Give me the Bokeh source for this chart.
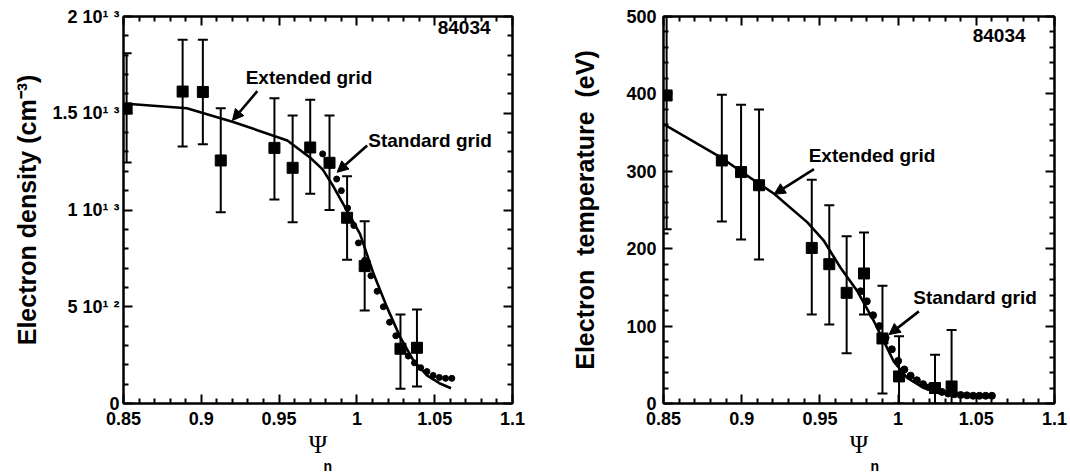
import numpy as np
from bokeh.plotting import figure
from bokeh.layouts import row
from bokeh.models import (Range1d, FixedTicker, LinearAxis, Whisker, TeeHead,
                          ColumnDataSource, Arrow, NormalHead, Label, Title)
from bokeh.embed import file_html
from bokeh.resources import INLINE

# ---------------- data: electron density (left) ----------------
ne_psi = [0.852, 0.888, 0.901, 0.9125, 0.947, 0.9587, 0.970, 0.9824, 0.9937, 1.005, 1.028, 1.0386]
ne_val = [1.525e13, 1.612e13, 1.61e13, 1.256e13, 1.321e13, 1.218e13, 1.323e13, 1.244e13, 0.96e13, 0.71e13, 0.283e13, 0.288e13]
ne_hi = [1.81e13, 1.88e13, 1.88e13, 1.526e13, 1.578e13, 1.488e13, 1.57e13, 1.488e13, 1.175e13, 0.942e13, 0.46e13, 0.486e13]
ne_lo = [1.245e13, 1.328e13, 1.34e13, 0.989e13, 1.054e13, 0.937e13, 1.084e13, 1.0e13, 0.743e13, 0.481e13, 0.076e13, 0.088e13]

ne_ext_psi = [0.852, 0.8907, 0.921, 0.9553, 0.970, 0.978, 0.985, 0.9936, 1.002, 1.0107, 1.0193, 1.0278, 1.0364, 1.045, 1.053, 1.0605]
ne_ext_val = [1.549e13, 1.526e13, 1.454e13, 1.359e13, 1.27e13, 1.21e13, 1.12e13, 0.997e13, 0.877e13, 0.670e13, 0.498e13, 0.343e13, 0.222e13, 0.145e13, 0.105e13, 0.079e13]

ne_std_psi = [0.978, 0.983, 0.987, 0.990, 0.994, 0.998, 1.001, 1.005, 1.009, 1.013, 1.017, 1.021,
              1.025, 1.029, 1.033, 1.037, 1.041, 1.045, 1.049, 1.053, 1.057, 1.061]
ne_std_val = [1.29e13, 1.23e13, 1.16e13, 1.10e13, 1.01e13, 0.92e13, 0.83e13, 0.74e13, 0.66e13, 0.58e13, 0.50e13, 0.42e13,
              0.35e13, 0.29e13, 0.245e13, 0.21e13, 0.185e13, 0.165e13, 0.145e13, 0.135e13, 0.13e13, 0.13e13]

# ---------------- data: electron temperature (right) ----------------
te_psi = [0.852, 0.8873, 0.8996, 0.9111, 0.9448, 0.956, 0.9671, 0.9782, 0.990, 1.0006, 1.0236, 1.0342]
te_val = [398, 314, 299, 282, 201, 180, 143, 168, 84, 35, 20, 22]
te_hi = [500, 399, 386, 380, 289, 256, 216, 221, 152, 87, 63, 95]
te_lo = [225, 235, 212, 186, 115, 102, 65, 115, 13, 0, 0, 0]

te_ext_psi = [0.850, 0.8866, 0.8994, 0.9207, 0.942, 0.9526, 0.9633, 0.974, 0.9846, 0.991, 0.9973, 1.0059, 1.0165, 1.0272, 1.040, 1.057]
te_ext_val = [361, 318, 300, 271, 234, 210, 175, 145, 106, 80, 54, 33, 20, 13, 11.5, 11]

te_std_psi = [0.976, 0.980, 0.984, 0.988, 0.992, 0.996, 1.000, 1.004, 1.008, 1.012, 1.016, 1.020,
              1.024, 1.028, 1.032, 1.036, 1.040, 1.044, 1.048, 1.052, 1.056, 1.060]
te_std_val = [145, 132, 114, 100, 85, 70, 55, 44, 36, 30, 25, 21, 17, 15, 13, 12, 11, 10.5, 10, 10, 10, 10]

# ---------------- ticks ----------------
x_ticks = [0.85, 0.9, 0.95, 1.0, 1.05, 1.1]
x_labels = ["0.85", "0.9", "0.95", "1", "1.05", "1.1"]
ne_ticks = [0, 5e12, 1e13, 1.5e13, 2e13]
ne_labels = ["0", "5 10\u00b9 \u00b2", "1 10\u00b9 \u00b3", "1.5 10\u00b9 \u00b3", "2 10\u00b9 \u00b3"]
te_ticks = [0, 100, 200, 300, 400, 500]
te_labels = ["0", "100", "200", "300", "400", "500"]

shot = "84034"

FONT = "Liberation Sans"
H = 472
BT, BB = 16, 69


def minor_list(ticks, n):
    out = []
    for a, b in zip(ticks[:-1], ticks[1:]):
        step = (b - a) / n
        out += [a + step * k for k in range(1, n)]
    return out


def style_axis(ax, ticks, labels, n_minor, show=True, standoff=6):
    ax.ticker = FixedTicker(ticks=ticks, minor_ticks=minor_list(ticks, n_minor))
    ax.axis_line_width = 2
    ax.axis_line_color = "black"
    ax.major_tick_in = 9
    ax.major_tick_out = 0
    ax.minor_tick_in = 5
    ax.minor_tick_out = 0
    ax.major_tick_line_width = 2
    ax.minor_tick_line_width = 2
    ax.major_tick_line_color = "black"
    ax.minor_tick_line_color = "black"
    ax.major_label_text_font = FONT
    ax.major_label_text_font_style = "bold"
    ax.major_label_text_color = "black"
    if show:
        ax.major_label_text_font_size = "18px"
        ax.major_label_overrides = dict(zip(ticks, labels))
        ax.major_label_standoff = standoff
    else:
        ax.major_label_text_font_size = "0px"
        ax.major_label_overrides = {t: "" for t in ticks}
        ax.major_label_standoff = 0


def make_panel(width, bl, br, y_max, y_ticks, y_labels, ylabel, ylab_standoff, ytick_standoff,
               ext_x, ext_y, std_x, std_y, pts_x, pts_y, pts_hi, pts_lo, std_size,
               ann, n_offset):
    p = figure(width=width, height=H, x_range=Range1d(0.85, 1.1), y_range=Range1d(0, y_max),
               output_backend="svg", toolbar_location=None,
               min_border_left=bl, min_border_right=br, min_border_top=BT, min_border_bottom=BB,
               background_fill_color="white", border_fill_color="white")
    p.xgrid.visible = False
    p.ygrid.visible = False
    p.outline_line_color = "black"
    p.outline_line_width = 2

    xa = p.xaxis[0]
    style_axis(xa, x_ticks, x_labels, 5, True, standoff=8)
    xa.axis_label = "\u03a8"
    xa.axis_label_text_font = "Liberation Serif"
    xa.axis_label_text_font_style = "normal"
    xa.axis_label_text_font_size = "25px"
    xa.axis_label_text_color = "black"
    xa.axis_label_standoff = 3

    ya = p.yaxis[0]
    style_axis(ya, y_ticks, y_labels, 5, True, standoff=ytick_standoff)
    ya.axis_label = ylabel
    ya.axis_label_text_font = FONT
    ya.axis_label_text_font_style = "bold"
    ya.axis_label_text_font_size = "25px"
    ya.axis_label_text_color = "black"
    ya.axis_label_standoff = ylab_standoff

    top = LinearAxis()
    style_axis(top, x_ticks, x_labels, 5, False)
    p.add_layout(top, "above")
    right = LinearAxis()
    style_axis(right, y_ticks, y_labels, 5, False)
    p.add_layout(right, "right")

    # subscript "n" of the x-axis label
    p.add_layout(Title(text="n", align="left", offset=n_offset, standoff=-6,
                       vertical_align="top",
                       text_font=FONT, text_font_style="bold", text_font_size="14px",
                       text_color="black"), "below")

    # extended grid (solid line)
    p.line(ext_x, ext_y, line_width=2.6, line_color="black")
    # standard grid (dots)
    p.scatter(std_x, std_y, marker="circle", size=std_size, fill_color="black", line_color="black")
    # Thomson data with error bars
    src = ColumnDataSource(dict(x=pts_x, y=pts_y, hi=pts_hi, lo=pts_lo))
    w = Whisker(base="x", upper="hi", lower="lo", source=src, dimension="height",
                line_width=2, line_color="black",
                upper_head=TeeHead(size=10, line_width=2, line_color="black"),
                lower_head=TeeHead(size=10, line_width=2, line_color="black"))
    p.add_layout(w)
    p.scatter("x", "y", source=src, marker="square", size=11, fill_color="black", line_color="black")

    # annotations
    for txt, tx, ty, align, arr in ann:
        p.add_layout(Label(x=tx, y=ty, text=txt, text_font=FONT, text_font_style="bold",
                           text_font_size="19px", text_color="black",
                           text_align=align, text_baseline="middle"))
        if arr is not None:
            (x0, y0), (x1, y1) = arr
            p.add_layout(Arrow(x_start=x0, y_start=y0, x_end=x1, y_end=y1, line_width=2.6,
                               line_color="black",
                               end=NormalHead(size=11, fill_color="black", line_color="black",
                                              line_width=1)))
    return p


ne_ann = [
    ("Extended grid", 0.9285, 1.685e13, "left", ((0.936, 1.614e13), (0.920, 1.4625e13))),
    ("Standard grid", 1.0073, 1.359e13, "left", ((1.0066, 1.333e13), (0.9873, 1.195e13))),
    (shot, 1.0859, 1.942e13, "right", None),
]
te_ann = [
    ("Extended grid", 0.9428, 321, "left", ((0.9462, 302.7), (0.9207, 270.3))),
    ("Standard grid", 1.0097, 136.4, "left", ((1.0133, 119), (0.9942, 89))),
    (shot, 1.0815, 475, "right", None),
]

p1 = make_panel(540, 123, 28, 2e13, ne_ticks, ne_labels, "Electron density (cm\u207b\u00b3)", 8, 4,
                ne_ext_psi, ne_ext_val, ne_std_psi, ne_std_val, ne_psi, ne_val, ne_hi, ne_lo, 6,
                ne_ann, 200)
p2 = make_panel(530, 123, 16, 500, te_ticks, te_labels,
                "Electron\u00a0\u00a0temperature\u00a0\u00a0(eV)", 24, 7,
                te_ext_psi, te_ext_val, te_std_psi, te_std_val, te_psi, te_val, te_hi, te_lo, 7,
                te_ann, 207)

layout = row(p1, p2)
open("out.html", "w").write(file_html(layout, INLINE))
